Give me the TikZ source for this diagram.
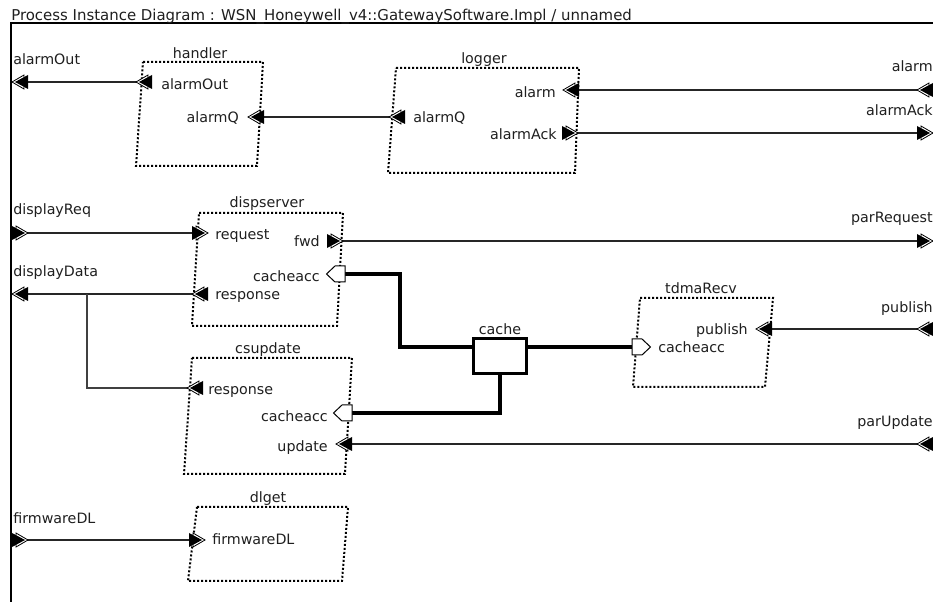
\documentclass[tikz,border=0pt]{standalone}
\usepackage{fontspec}
\setmainfont{DejaVu Sans}
\begin{document}
\begin{tikzpicture}[x=0.75pt,y=-0.75pt,
  every node/.style={font=\fontsize{10.7pt}{13pt}\selectfont, text=black!88, inner sep=0pt},
  comp/.style={line width=1.5pt, dash pattern=on 1.5pt off 1.5pt, draw=black},
  conn/.style={line width=0.8pt, draw=black!85},
  thickconn/.style={line width=2.3pt, draw=black},
  parr/.pic={
    \filldraw[fill=white, draw=black, line width=0.6pt] (8,0) -- (-4,-7) -- (-4,7) -- cycle;
    \fill[black] (5,0) -- (-8,-7) -- (-8,7) -- cycle;
  },
  ptag/.pic={
    \filldraw[fill=white, draw=black, line width=0.75pt] (-9,-8) -- (1,-8) -- (9.5,0) -- (1,8) -- (-9,8) -- cycle;
  }]
\useasboundingbox (0,0) rectangle (933,602);
\fill[white] (0,0) rectangle (933,602);
% frame and title
\draw[line width=0.9pt] (11,602) -- (11,23) -- (933,23);
\node[anchor=base west, font=\fontsize{11.2pt}{13pt}\selectfont] (title) at (11,20.5) {Process Instance Diagram : WSN\_Honeywell\_v4::GatewaySoftware.Impl / unnamed};

% component boxes
\draw[comp] (143,62) -- (263,62) -- (257,166) -- (136,166) -- cycle;
\draw[comp] (396,68) -- (579,68) -- (575,173) -- (388,173) -- cycle;
\draw[comp] (199,213) -- (343,213) -- (337,326) -- (192,326) -- cycle;
\draw[comp] (640,298) -- (773,298) -- (765,387) -- (633,387) -- cycle;
\draw[comp] (192,358) -- (352,358) -- (345,474) -- (184,474) -- cycle;
\draw[comp] (197,507) -- (348,507) -- (342,581) -- (188,581) -- cycle;

% port coordinates
\coordinate (h-ao) at (144,82);
\coordinate (h-aq) at (256,117);
\coordinate (l-aq) at (397,117);
\coordinate (l-al) at (571,90);
\coordinate (l-ak) at (570,133);
\coordinate (d-rq) at (200,233);
\coordinate (d-fw) at (335,241);
\coordinate (d-ca) at (336,274);
\coordinate (d-rs) at (200,294);
\coordinate (t-pb) at (764,329);
\coordinate (t-ca) at (641,347);
\coordinate (c-rs) at (195,388);
\coordinate (c-ca) at (343,413);
\coordinate (c-up) at (344,444);
\coordinate (g-fw) at (197,540);
\coordinate (b-ao) at (20,82);
\coordinate (b-rq) at (20,233);
\coordinate (b-dd) at (20,294);
\coordinate (b-fw) at (20,540);
\coordinate (b-al) at (925,90);
\coordinate (b-ak) at (925,133);
\coordinate (b-pr) at (925,241);
\coordinate (b-pb) at (925,329);
\coordinate (b-pu) at (925,444);

% cache
\node[draw, line width=2.3pt, minimum width=40pt, minimum height=26pt] (cache) at (500,356) {};

% connectors
\draw[conn] (b-ao) -- (h-ao);
\draw[conn] (h-aq) -- (l-aq);
\draw[conn] (l-al) -- (b-al);
\draw[conn] (l-ak) -- (b-ak);
\draw[conn] (b-rq) -- (d-rq);
\draw[conn] (d-fw) -- (b-pr);
\coordinate (jdd) at (87,294);
\draw[line width=2.2pt, draw=black!45] (jdd) -- (b-dd);
\draw[conn] (d-rs) -- (b-dd);
\draw[conn, draw=black!75] (c-rs) -| (jdd);
\draw[conn] (b-pb) -- (t-pb);
\draw[conn] (b-pu) -- (c-up);
\draw[conn] (b-fw) -- (g-fw);
\coordinate (j1) at (400,347);
\draw[thickconn] (d-ca) -| (j1) -- (j1 -| cache.west);
\draw[thickconn] (cache.east |- t-ca) -- (t-ca);
\draw[thickconn] (cache.south) |- (c-ca);

% port symbols
\pic[rotate=180] at (h-ao) {parr};
\pic[rotate=180] at (h-aq) {parr};
\pic[rotate=180] at (l-aq) {parr};
\pic[rotate=180] at (l-al) {parr};
\pic at (l-ak) {parr};
\pic at (d-rq) {parr};
\pic at (d-fw) {parr};
\pic[rotate=180] at (d-ca) {ptag};
\pic[rotate=180] at (d-rs) {parr};
\pic[rotate=180] at (t-pb) {parr};
\pic at (t-ca) {ptag};
\pic[rotate=180] at (c-rs) {parr};
\pic[rotate=180] at (c-ca) {ptag};
\pic[rotate=180] at (c-up) {parr};
\pic at (g-fw) {parr};
\pic[rotate=180] at (b-ao) {parr};
\pic at (b-rq) {parr};
\pic[rotate=180] at (b-dd) {parr};
\pic at (b-fw) {parr};
\pic[rotate=180] at (b-al) {parr};
\pic at (b-ak) {parr};
\pic at (b-pr) {parr};
\pic[rotate=180] at (b-pb) {parr};
\pic[rotate=180] at (b-pu) {parr};

% component names
\node[anchor=base] (n-handler) at (200,59) {handler};
\node[anchor=base] (n-logger) at (484,64) {logger};
\node[anchor=base] (n-disp) at (267,208) {dispserver};
\node[anchor=base] (n-tdma) at (701,294) {tdmaRecv};
\node[anchor=base] (n-cache) at (500,335) {cache};
\node[anchor=base] (n-csup) at (268,354) {csupdate};
\node[anchor=base] (n-dlget) at (268,503) {dlget};

% port labels
\node[anchor=base west] (p1) at (161,90) {alarmOut};
\node[anchor=base east] (p2) at (239,123) {alarmQ};
\node[anchor=base west] (p3) at (413,123) {alarmQ};
\node[anchor=base east] (p4) at (556,98) {alarm};
\node[anchor=base east] (p5) at (557,140) {alarmAck};
\node[anchor=base west] (p6) at (215,240) {request};
\node[anchor=base east] (p7) at (320,247) {fwd};
\node[anchor=base east] (p8) at (320,282) {cacheacc};
\node[anchor=base west] (p9) at (215,300) {response};
\node[anchor=base east] (p10) at (748,335) {publish};
\node[anchor=base west] (p11) at (658,353) {cacheacc};
\node[anchor=base west] (p12) at (208,395) {response};
\node[anchor=base east] (p13) at (328,422) {cacheacc};
\node[anchor=base east] (p14) at (328,452) {update};
\node[anchor=base west] (p15) at (212,545) {firmwareDL};

% boundary labels
\node[anchor=base west] (q1) at (13,65) {alarmOut};
\node[anchor=base west] (q2) at (13,215) {displayReq};
\node[anchor=base west] (q3) at (13,277) {displayData};
\node[anchor=base west] (q4) at (13,523) {firmwareDL};
\node[anchor=base east] (q5) at (933,72) {alarm};
\node[anchor=base east] (q6) at (933,116) {alarmAck};
\node[anchor=base east] (q7) at (933,223) {parRequest};
\node[anchor=base east] (q8) at (933,313) {publish};
\node[anchor=base east] (q9) at (933,427) {parUpdate};
\end{tikzpicture}
\end{document}
